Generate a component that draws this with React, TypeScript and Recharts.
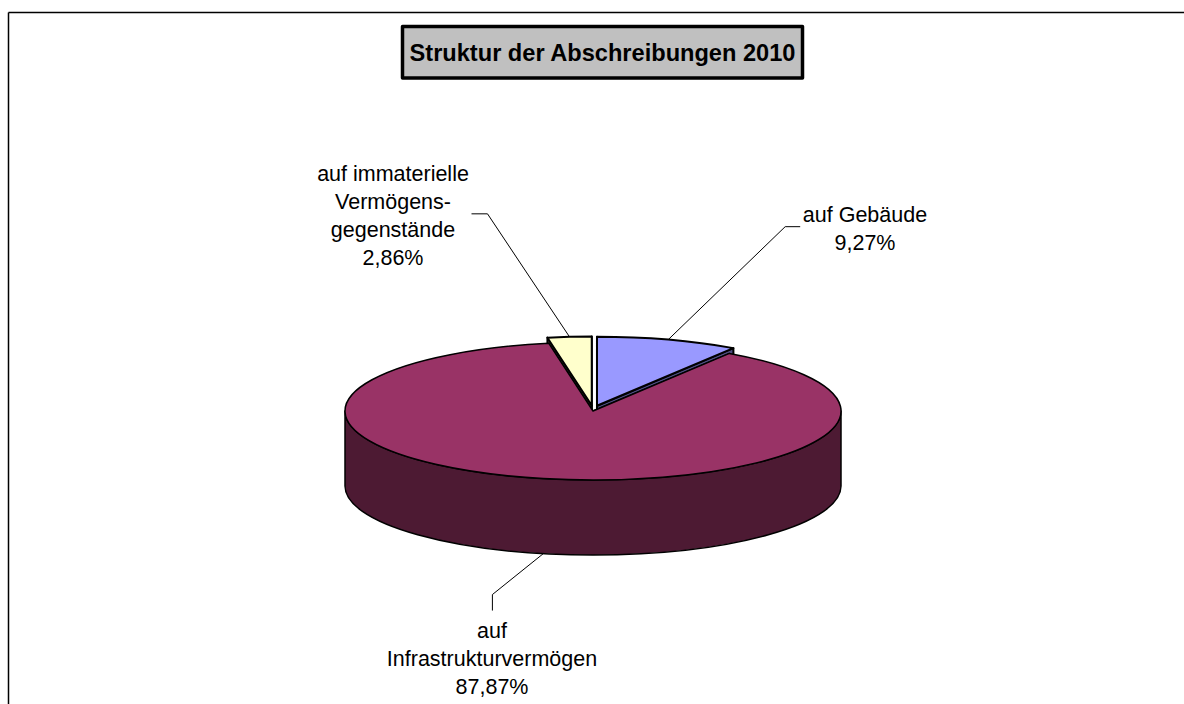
import { Pie, PieChart } from "recharts";

// drawn in this order so the big slice sits on top of the pulled-out walls
const sliceNames = ["auf immaterielle Vermögensgegenstände", "auf Gebäude", "auf Infrastrukturvermögen"];
const sliceValues = [2.86, 9.27, 87.87];
const labelLines = [
  ["auf immaterielle", "Vermögens-", "gegenstände"],
  ["auf Gebäude"],
  ["auf", "Infrastrukturvermögen"],
];

const topColors = ["#FFFFCC", "#9999FF", "#993366"];
const wallColors = ["#808066", "#4D4D80", "#4D1A33"];
const explode = [0.08, 0.08, 0];

const title = "Struktur der Abschreibungen 2010";
const FONT = "'Liberation Sans', Arial, sans-serif";

const CX = 593;
const CY = 411;
const RX = 248;
const TILT = 0.278;
const DEPTH = 75;
const EXPLODE_X = 0.7;
const START_ANGLE = 90 + sliceValues[0] * 3.6;

// leader elbows, relative to where the line leaves the pie, and the text block
const leaders = [
  { elbow: [-82, -123], end: [-98, -123], textX: 393, textY: 180.5 },
  { elbow: [117, -113], end: [132, -113], textX: 865, textY: 221.5 },
  { elbow: [-51, 41], end: [-51, 57], textX: 492, textY: 638 },
];
const LINE_HEIGHT = 28.2;

const chartData = sliceNames.map((name, i) => ({ name, value: sliceValues[i] }));

const rad = (deg: number) => (deg * Math.PI) / 180;

function SliceShape(props: any, index: number) {
  const { cx, cy, outerRadius: rx, startAngle, endAngle } = props;
  const i = typeof index === "number" ? index : props.index;
  const ry = rx * TILT;
  const mid = rad((startAngle + endAngle) / 2);
  const ox = cx + explode[i] * EXPLODE_X * rx * Math.cos(mid);
  const oy = cy - explode[i] * ry * Math.sin(mid);
  const pt = (a: number, dy = 0) =>
    `${ox + rx * Math.cos(rad(a))} ${oy - ry * Math.sin(rad(a)) + dy}`;
  const apex = `${ox} ${oy}`;
  const apexLow = `${ox} ${oy + DEPTH}`;
  const large = startAngle - endAngle > 180 ? 1 : 0;

  const hi = Math.min(startAngle, 0);
  const lo = Math.max(endAngle, -180);
  const common = {
    stroke: "#000",
    strokeWidth: explode[i] > 0 ? 2 : 1.5,
    strokeLinejoin: "round" as const,
  };

  return (
    <g>
      <path d={`M${apex} L${pt(startAngle)} L${pt(startAngle, DEPTH)} L${apexLow} Z`} fill={wallColors[i]} {...common} />
      <path d={`M${apex} L${pt(endAngle)} L${pt(endAngle, DEPTH)} L${apexLow} Z`} fill={wallColors[i]} {...common} />
      {hi > lo && (
        <path
          d={`M${pt(hi)} A${rx} ${ry} 0 0 1 ${pt(lo)} L${pt(lo, DEPTH)} A${rx} ${ry} 0 0 0 ${pt(hi, DEPTH)} Z`}
          fill={wallColors[i]}
          {...common}
        />
      )}
      <path
        d={`M${apex} L${pt(startAngle)} A${rx} ${ry} 0 ${large} 1 ${pt(endAngle)} Z`}
        fill={topColors[i]}
        {...common}
      />
    </g>
  );
}

function SliceLabel(props: any) {
  const { cx, cy, outerRadius: rx, midAngle, index, value } = props;
  const ry = rx * TILT;
  const a = rad(midAngle);
  const front = Math.sin(a) < 0;
  const sx = cx + (1 + explode[index] * EXPLODE_X) * rx * Math.cos(a);
  const sy = cy - (1 + explode[index]) * ry * Math.sin(a) + (front ? DEPTH : 0);
  const l = leaders[index];
  const lines = [...labelLines[index], `${value.toFixed(2).replace(".", ",")}%`];
  return (
    <g>
      <polyline
        points={`${sx},${sy} ${sx + l.elbow[0]},${sy + l.elbow[1]} ${sx + l.end[0]},${sy + l.end[1]}`}
        fill="none"
        stroke="#000"
        strokeWidth={1}
      />
      <text x={l.textX} y={l.textY} textAnchor="middle" fontFamily={FONT} fontSize={21.5} fill="#000">
        {lines.map((line, n) => (
          <tspan key={line} x={l.textX} y={l.textY + n * LINE_HEIGHT}>
            {line}
          </tspan>
        ))}
      </text>
    </g>
  );
}

export default function App() {
  return (
    <div style={{ position: "absolute", left: 0, top: 0, width: 1184, height: 704, background: "#fff" }}>
      <PieChart width={1184} height={704} margin={{ top: 0, right: 0, bottom: 0, left: 0 }}>
        <line x1={8.5} y1={12.5} x2={1184} y2={12.5} stroke="#000" strokeWidth={1.5} />
        <line x1={8.5} y1={12.5} x2={8.5} y2={704} stroke="#000" strokeWidth={1.5} />
        <Pie
          data={chartData}
          dataKey="value"
          nameKey="name"
          cx={CX}
          cy={CY}
          innerRadius={0}
          outerRadius={RX}
          startAngle={START_ANGLE}
          endAngle={START_ANGLE - 360}
          shape={SliceShape}
          label={SliceLabel}
          labelLine={false}
          isAnimationActive={false}
        />
        <rect
          x={402.5}
          y={26.5}
          width={400}
          height={51.5}
          fill="#C0C0C0"
          stroke="#000"
          strokeWidth={3.5}
          strokeLinejoin="round"
        />
        <text x={602.5} y={61} textAnchor="middle" fontFamily={FONT} fontSize={23.6} fontWeight={700} fill="#000">
          {title}
        </text>
      </PieChart>
    </div>
  );
}
